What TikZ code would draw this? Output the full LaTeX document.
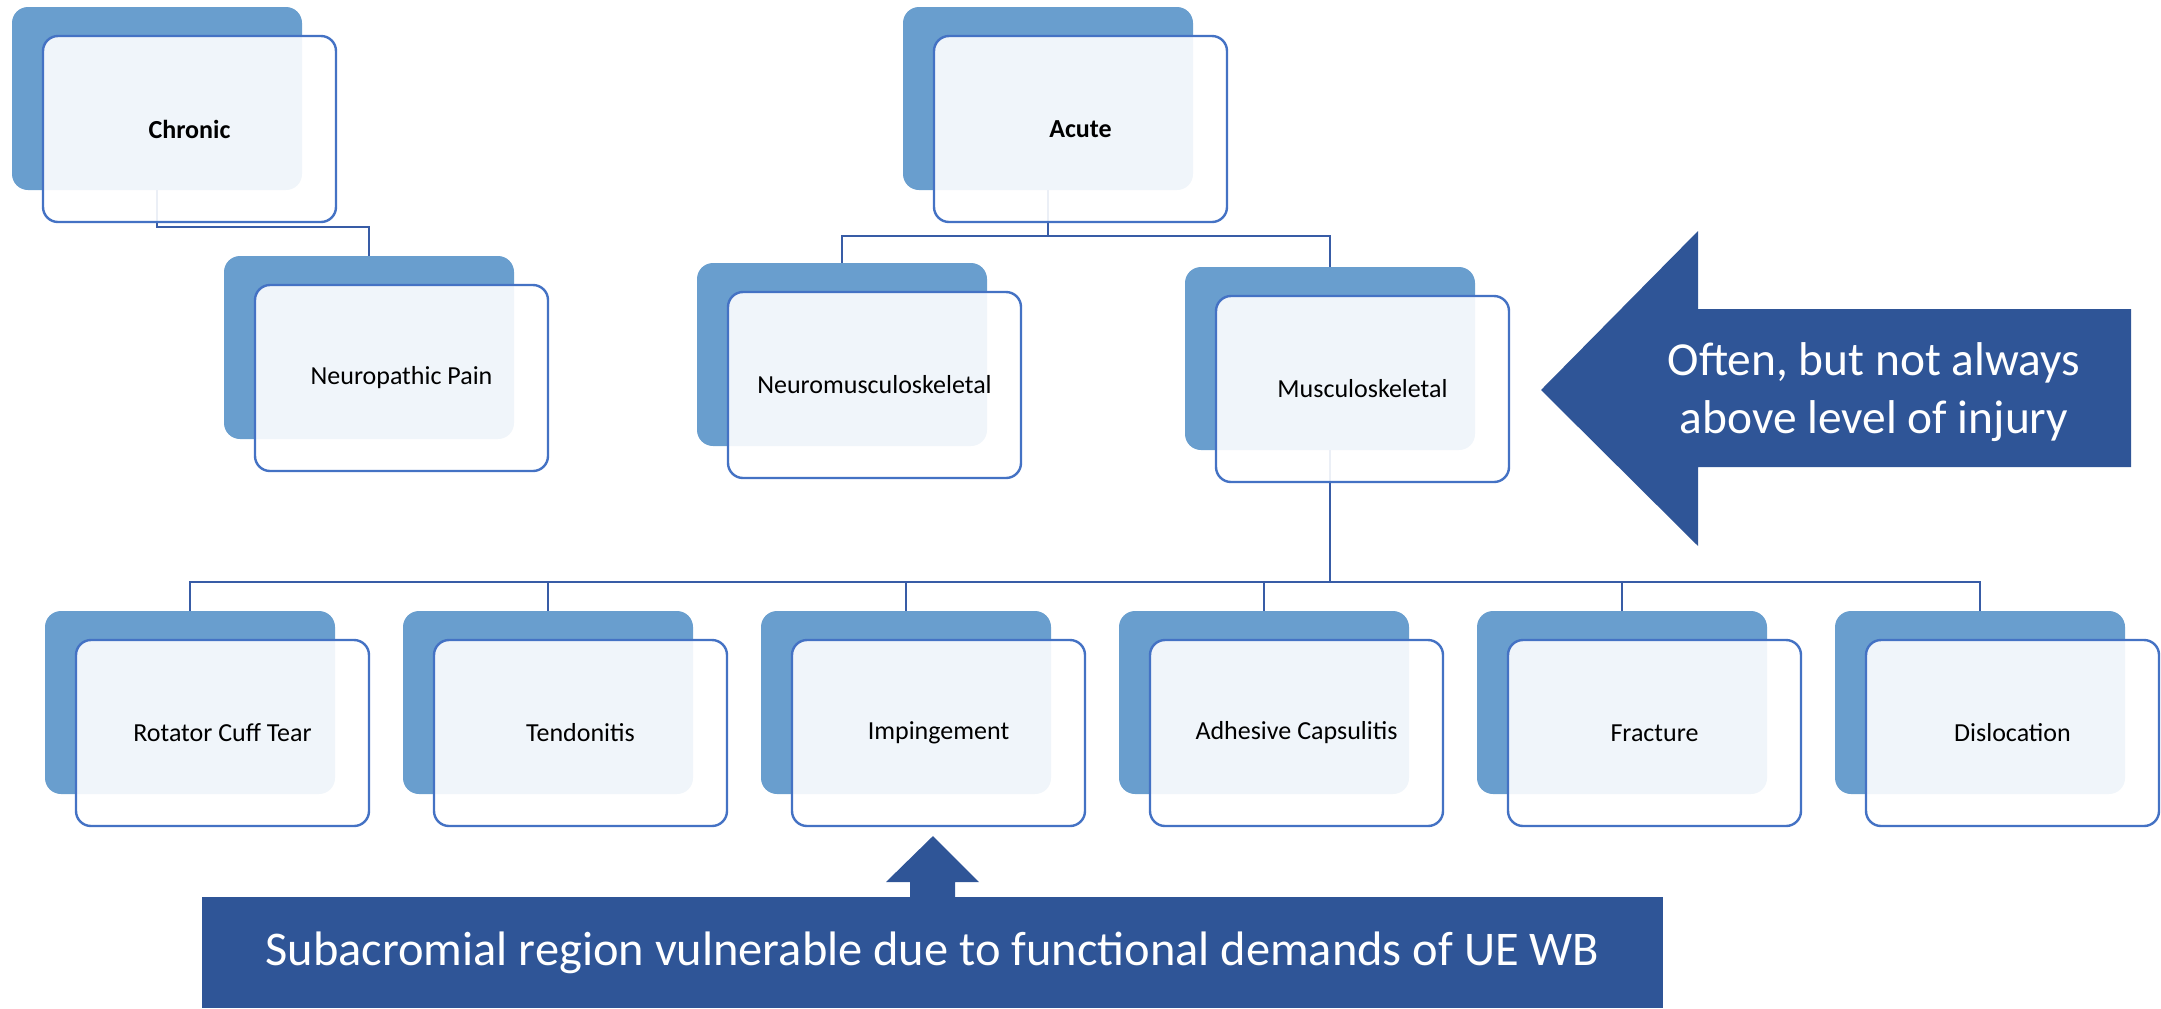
\documentclass[tikz,border=0pt]{standalone}
\usepackage{fontspec}
\setmainfont{Carlito}
\pgfdeclarelayer{bg}
\pgfsetlayers{bg,main}
\definecolor{backblue}{RGB}{105,158,206}
\definecolor{edgeblue}{RGB}{68,114,196}
\definecolor{connblue}{RGB}{56,92,166}
\definecolor{darkblue}{RGB}{47,85,151}
\newcommand\twobox[4]{%
  \node[backbox] (b#1) at (#2+145,#3+91.5) {};
  \node[frontbox] (#1) at (#2+177.5,#3+122) {#4};}
\begin{document}
\begin{tikzpicture}[x=0.5pt,y=-0.5pt,
  backbox/.style={rectangle, rounded corners=8pt, fill=backblue, minimum width=145pt, minimum height=91.5pt, inner sep=0pt, outer sep=0pt},
  frontbox/.style={rectangle, rounded corners=7.5pt, draw=edgeblue, line width=1.2pt, fill=white, fill opacity=0.9, text opacity=1, minimum width=146.5pt, minimum height=93pt, inner sep=0pt, outer sep=0pt, font=\fontsize{13}{15}\selectfont, text=black},
  conn/.style={draw=connblue, line width=1.3pt},
  bigtext/.style={text=white, font=\fontsize{23.7}{29}\selectfont, align=center, inner sep=0pt}
]
\useasboundingbox (0,0) rectangle (2161,1008);

\twobox{chronic}{12}{7}{\bfseries Chronic}
\twobox{neuro}{224}{256}{Neuropathic Pain}
\twobox{acute}{903}{7}{\bfseries Acute}
\twobox{nms}{697}{263}{Neuromusculoskeletal}
\twobox{ms}{1185}{267}{Musculoskeletal}
\twobox{rct}{45}{611}{Rotator Cuff Tear}
\twobox{tend}{403}{611}{Tendonitis}
\twobox{imp}{761}{611}{Impingement}
\twobox{adh}{1119}{611}{Adhesive Capsulitis}
\twobox{frac}{1477}{611}{Fracture}
\twobox{disl}{1835}{611}{Dislocation}

\begin{pgfonlayer}{bg}
\draw[conn] (bchronic.south) -- ++(0,37) -| (bneuro.north);
\draw[conn] (bacute.south) -- ++(0,46) coordinate (am) -| (bnms.north);
\draw[conn] (am) -| (bms.north);
\draw[conn] (bms.south) -- ++(0,132) coordinate (mm) -| (brct.north);
\foreach \n in {tend,imp,adh,frac,disl} \draw[conn] (mm) -| (b\n.north);
\end{pgfonlayer}

% left-pointing arrow
\fill[darkblue] (1541,390) -- (1698,231) -- (1698,309) -- (2131,309) -- (2131,467) -- (1698,467) -- (1698,546) -- cycle;
\node[bigtext] (often) at (1874,392) {Often, but not always\\above level of injury};

% bottom banner with up arrow
\node[fill=darkblue, minimum width=730.5pt, minimum height=55.5pt, inner sep=0pt, outer sep=0pt, text=white, font=\fontsize{24.2}{29}\selectfont] (sub) at (932.5,952.5) {Subacromial region vulnerable due to functional demands of UE WB};
\fill[darkblue] (933,836) -- (979,882) -- (955,882) -- (955,898) -- (910,898) -- (910,882) -- (886,882) -- cycle;
\end{tikzpicture}
\end{document}
